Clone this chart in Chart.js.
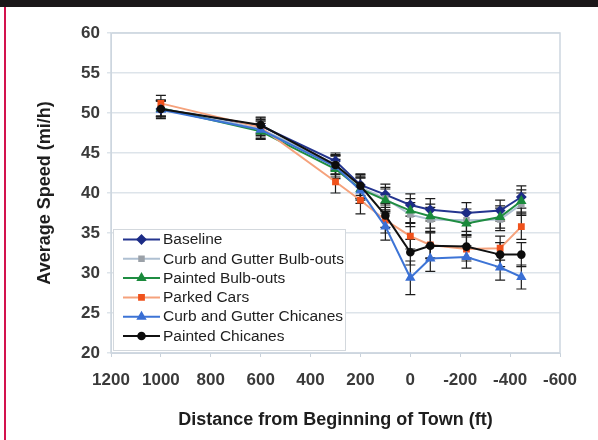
<!DOCTYPE html>
<html>
<head>
<meta charset="utf-8">
<script src="https://cdn.jsdelivr.net/npm/chart.js@4.4.1/dist/chart.umd.min.js"></script>
<style>
html, body { margin: 0; padding: 0; background: #fff; }
#wrap { position: relative; width: 598px; height: 440px; overflow: hidden; }
#topband { position: absolute; left: 0; top: 0; width: 598px; height: 7px; background: #1b181a; }
#redline { position: absolute; left: 4px; top: 7px; width: 2px; height: 433px; background: #d3124e; }
canvas { position: absolute; left: 0; top: 0; }
</style>
</head>
<body>
<div id="wrap">
  <canvas id="speedChart" width="598" height="440"></canvas>
  <div id="topband"></div>
  <div id="redline"></div>
</div>
<script>
// distance from beginning of town (ft)
const distances = [1000, 600, 300, 200, 100, 0, -80, -225, -360, -445];

const seriesNames = ['Baseline', 'Curb and Gutter Bulb-outs', 'Painted Bulb-outs',
    'Parked Cars', 'Curb and Gutter Chicanes', 'Painted Chicanes'];

// average speed (mi/h)
const baseline        = [50.5, 48.4, 44.0, 41.0, 39.8, 38.5, 37.9, 37.5, 37.8, 39.5];
const curbBulbouts    = [50.6, 48.0, 43.6, 40.7, 39.3, 37.3, 36.7, 36.6, 36.7, 38.6];
const paintedBulbouts = [50.6, 47.7, 43.0, 40.5, 39.1, 37.8, 37.1, 36.2, 37.0, 39.0];
const parkedCars      = [51.2, 48.2, 41.4, 39.1, 36.6, 34.6, 33.5, 33.0, 33.1, 35.8];
const curbChicanes    = [50.4, 47.9, 43.3, 40.3, 35.8, 29.4, 31.8, 32.0, 30.7, 29.5];
const paintedChicanes = [50.5, 48.5, 43.5, 40.9, 37.2, 32.6, 33.4, 33.3, 32.3, 32.3];

// +/- error bar half-widths (mi/h)
const baselineErr        = [1.0, 1.0, 1.0, 1.3, 1.3, 1.4, 1.4, 1.3, 1.3, 1.4];
const curbBulboutsErr    = [1.0, 1.0, 1.2, 1.4, 1.4, 1.5, 1.5, 1.4, 1.4, 1.4];
const paintedBulboutsErr = [1.0, 1.0, 1.2, 1.4, 1.4, 1.5, 1.5, 1.4, 1.4, 1.4];
const parkedCarsErr      = [1.0, 1.0, 1.4, 1.7, 1.6, 1.6, 1.6, 1.5, 1.5, 1.6];
const curbChicanesErr    = [1.1, 1.1, 1.3, 1.6, 1.7, 2.1, 1.6, 1.4, 1.6, 1.5];
const paintedChicanesErr = [1.0, 1.0, 1.2, 1.5, 1.5, 1.6, 1.6, 1.4, 1.5, 1.5];

const yTicks = [20, 25, 30, 35, 40, 45, 50, 55, 60];

const allValues = [baseline, curbBulbouts, paintedBulbouts, parkedCars, curbChicanes, paintedChicanes];
const allErrors = [baselineErr, curbBulboutsErr, paintedBulboutsErr, parkedCarsErr, curbChicanesErr, paintedChicanesErr];

const lineColors  = ['#24358f', '#afc0d2', '#1f8d42', '#f5a27c', '#3d74d6', '#111111'];
const pointColors = ['#1c2c86', '#9ba1a8', '#1a8a3c', '#f0521c', '#3a6fd4', '#0d0d0d'];
const pointStyles = ['rectRot', 'rect', 'triangle', 'rect', 'triangle', 'circle'];
const pointSizes  = [4, 3.2, 4, 3.4, 4, 3.3];

const FONT = '"Liberation Sans", Arial, sans-serif';

const datasets = seriesNames.map((name, i) => ({
    label: name,
    data: distances.map((d, j) => ({ x: d, y: allValues[i][j] })),
    borderColor: lineColors[i],
    backgroundColor: pointColors[i],
    pointBackgroundColor: pointColors[i],
    pointBorderColor: pointColors[i],
    pointStyle: pointStyles[i],
    pointRadius: pointSizes[i],
    borderWidth: 2,
    tension: 0,
    order: seriesNames.length - i
}));

// plot frame (light border round the plotting area)
const plotFrame = {
    id: 'plotFrame',
    beforeDatasetsDraw(chart) {
        const a = chart.chartArea;
        const ctx = chart.ctx;
        ctx.save();
        ctx.strokeStyle = '#cdd6df';
        ctx.lineWidth = 1.5;
        ctx.strokeRect(a.left, a.top, a.right - a.left, a.bottom - a.top);
        ctx.restore();
    }
};

// vertical error bars with caps, drawn through the chart's scales
const errorBars = {
    id: 'errorBars',
    beforeDatasetsDraw(chart) {
        const { ctx, scales: { x, y } } = chart;
        ctx.save();
        ctx.strokeStyle = '#1d1d1d';
        ctx.lineWidth = 1.2;
        allValues.forEach((vals, i) => {
            vals.forEach((v, j) => {
                const px = x.getPixelForValue(distances[j]);
                const top = y.getPixelForValue(v + allErrors[i][j]);
                const bot = y.getPixelForValue(v - allErrors[i][j]);
                ctx.beginPath();
                ctx.moveTo(px, top); ctx.lineTo(px, bot);
                ctx.moveTo(px - 5, top); ctx.lineTo(px + 5, top);
                ctx.moveTo(px - 5, bot); ctx.lineTo(px + 5, bot);
                ctx.stroke();
            });
        });
        ctx.restore();
    }
};

// legend box inside the plot, lower left
const boxLegend = {
    id: 'boxLegend',
    afterDraw(chart) {
        const ctx = chart.ctx;
        const left = 113, top = 229, w = 232, h = 121;
        ctx.save();
        ctx.fillStyle = '#ffffff';
        ctx.fillRect(left, top, w, h);
        ctx.strokeStyle = '#d3d8dd';
        ctx.lineWidth = 1;
        ctx.strokeRect(left + 0.5, top + 0.5, w, h);
        ctx.font = '15.5px ' + FONT;
        ctx.textBaseline = 'middle';
        seriesNames.forEach((name, i) => {
            const rowY = 239.5 + i * 19.3;
            ctx.strokeStyle = lineColors[i];
            ctx.lineWidth = 2;
            ctx.beginPath();
            ctx.moveTo(123, rowY); ctx.lineTo(160, rowY);
            ctx.stroke();
            ctx.fillStyle = pointColors[i];
            ctx.strokeStyle = pointColors[i];
            Chart.helpers.drawPoint(ctx, {
                pointStyle: pointStyles[i],
                radius: pointSizes[i],
                borderWidth: 1,
                rotation: 0
            }, 141.5, rowY);
            ctx.fillStyle = '#1e1e1e';
            ctx.fillText(name, 163, rowY + 0.5);
        });
        ctx.restore();
    }
};

new Chart(document.getElementById('speedChart'), {
    type: 'line',
    data: { datasets: datasets },
    options: {
        responsive: false,
        animation: false,
        layout: { padding: { left: 0, right: 38, top: 33, bottom: 0 } },
        plugins: {
            legend: { display: false },
            tooltip: { enabled: false }
        },
        scales: {
            x: {
                type: 'linear',
                reverse: true,
                min: -600,
                max: 1200,
                afterFit: s => { s.height = 87; },
                ticks: {
                    stepSize: 200,
                    padding: 13,
                    color: '#3a3a3a',
                    font: { family: FONT, size: 17, weight: 'bold' },
                    callback: v => String(v)
                },
                grid: { drawOnChartArea: false, tickLength: 4, color: '#c9d2db' },
                border: { display: true, color: '#cdd6df' },
                title: {
                    display: true,
                    text: 'Distance from Beginning of Town (ft)',
                    color: '#1e1e1e',
                    font: { family: FONT, size: 18, weight: 'bold' },
                    padding: { top: 0, bottom: 9 }
                }
            },
            y: {
                min: 20,
                max: 60,
                afterFit: s => { s.width = 111; },
                afterBuildTicks: s => { s.ticks = yTicks.map(v => ({ value: v })); },
                ticks: {
                    padding: 7,
                    color: '#3a3a3a',
                    font: { family: FONT, size: 17, weight: 'bold' }
                },
                grid: { color: '#dde4ea', lineWidth: 1.5, tickLength: 4 },
                border: { display: true, color: '#cdd6df' },
                title: {
                    display: true,
                    text: 'Average Speed (mi/h)',
                    color: '#1e1e1e',
                    font: { family: FONT, size: 18, weight: 'bold' },
                    padding: { top: 34, bottom: 0 }
                }
            }
        }
    },
    plugins: [plotFrame, errorBars, boxLegend]
});
</script>
</body>
</html>
